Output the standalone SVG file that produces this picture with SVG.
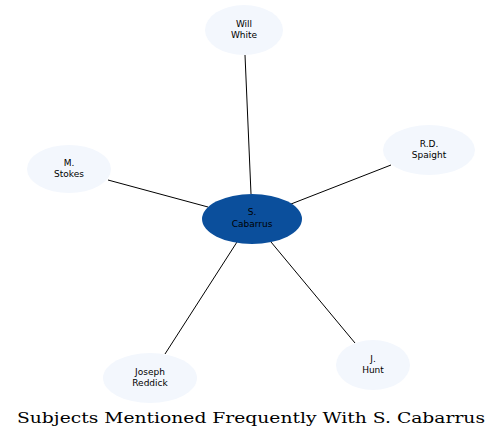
<svg xmlns="http://www.w3.org/2000/svg" width="503" height="439" viewBox="0 0 503 439">
<style>
.n ellipse{fill:#f3f7fd;stroke:none}
.c ellipse{fill:#0b4f9c;stroke:none}
.n text,.c text{font-family:"DejaVu Sans",sans-serif;font-size:9px;text-anchor:middle;fill:#000}
#edges line{stroke:#000;stroke-width:1}
.t{font-family:"DejaVu Serif",serif;font-size:15px;text-anchor:middle;fill:#000}
</style>
<rect width="503" height="439" fill="#fff"/>
<g id="edges">
<line x1="245" y1="55" x2="251" y2="194"/>
<line x1="108" y1="180" x2="208" y2="207"/>
<line x1="391" y1="165" x2="291" y2="204"/>
<line x1="165" y1="354" x2="237" y2="242"/>
<line x1="355" y1="343" x2="271" y2="242"/>
</g>
<g id="will-white" class="n"><ellipse cx="244" cy="30" rx="39" ry="25"/><text x="244" y="27">Will</text><text x="244" y="38">White</text></g>
<g id="m-stokes" class="n"><ellipse cx="69" cy="169" rx="42" ry="24"/><text x="69" y="166">M.</text><text x="69" y="177">Stokes</text></g>
<g id="rd-spaight" class="n"><ellipse cx="429" cy="150" rx="46" ry="25"/><text x="429" y="147">R.D.</text><text x="429" y="158">Spaight</text></g>
<g id="joseph-reddick" class="n"><ellipse cx="150" cy="378" rx="47" ry="25"/><text x="150" y="375">Joseph</text><text x="150" y="386">Reddick</text></g>
<g id="j-hunt" class="n"><ellipse cx="373" cy="365" rx="37" ry="25"/><text x="373" y="362">J.</text><text x="373" y="373">Hunt</text></g>
<g id="s-cabarrus" class="c"><ellipse cx="252" cy="219" rx="50" ry="25"/><text x="252" y="215">S.</text><text x="252" y="227">Cabarrus</text></g>
<text class="t" x="251" y="423" textLength="468" lengthAdjust="spacingAndGlyphs">Subjects Mentioned Frequently With S. Cabarrus</text>
</svg>
